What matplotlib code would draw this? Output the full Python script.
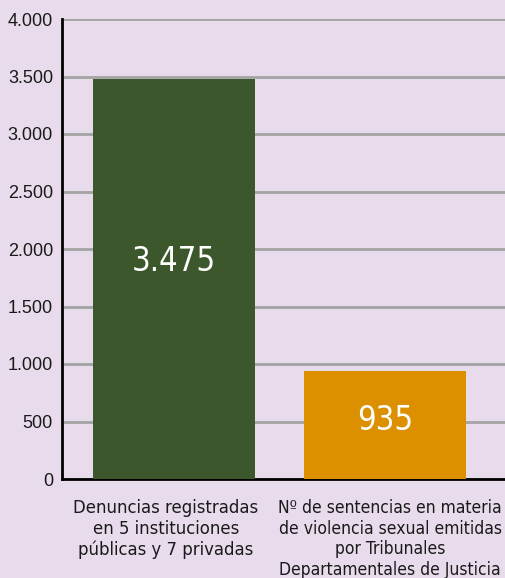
import matplotlib.pyplot as plt
import numpy as np

# Datos
categorias = ['Denuncias registradas\nen 5 instituciones\npúblicas y 7 privadas',
              'Nº de sentencias en materia\nde violencia sexual emitidas\npor Tribunales\nDepartamentales de Justicia']
valores = [3475, 935]
etiquetas = ['3.475', '935']
colores = ['#3b572b', '#dc9000']
yticks = [0, 500, 1000, 1500, 2000, 2500, 3000, 3500, 4000]
ytick_labels = ['0', '500', '1.000', '1.500', '2.000', '2.500', '3.000', '3.500', '4.000']

fondo = '#e8dcec'
fuente = ['DejaVu Sans']

fig = plt.figure(figsize=(5.06, 5.78), dpi=100, facecolor=fondo)
ax = fig.add_axes([62 / 506, 1 - 479 / 578, 444 / 506, 460 / 578])
ax.set_facecolor(fondo)

x = np.arange(len(categorias))
ax.bar(x, valores, 0.768, color=colores, zorder=3)

# valores dentro de las barras
for xi, v, t in zip(x, valores, etiquetas):
    ax.text(xi, v * 0.544, t, ha='center', va='center', color='white',
            fontsize=23.5, family=fuente, fontstretch='condensed')

# etiquetas de categoria (un poco desplazadas como en el original)
desplaz = [-0.038, 0.024]
tamanos = [13.2, 12.5]
for xi, d, s, c in zip(x, desplaz, tamanos, categorias):
    ax.text(xi + d, -0.043, c, transform=ax.get_xaxis_transform(), ha='center', va='top',
            fontsize=s, family=fuente, fontstretch='condensed', linespacing=1.2,
            color='#1a1a1a')

ax.set_ylim(0, 4000)
ax.set_xlim(-0.531, 1.573)
ax.set_yticks(yticks)
ax.set_yticklabels(ytick_labels, fontsize=13, family=['Liberation Sans', 'DejaVu Sans'],
                   color='#1a1a1a')
ax.set_xticks([])
ax.tick_params(axis='both', length=0)
ax.tick_params(axis='y', pad=6.5)

ax.yaxis.grid(True, color='#a3a3a3', linewidth=2, zorder=0)
ax.set_axisbelow(True)
for lado in ['top', 'right']:
    ax.spines[lado].set_visible(False)
ax.spines['left'].set_linewidth(2)
ax.spines['bottom'].set_linewidth(2)

fig.savefig('out.png', dpi=100, facecolor=fondo)
